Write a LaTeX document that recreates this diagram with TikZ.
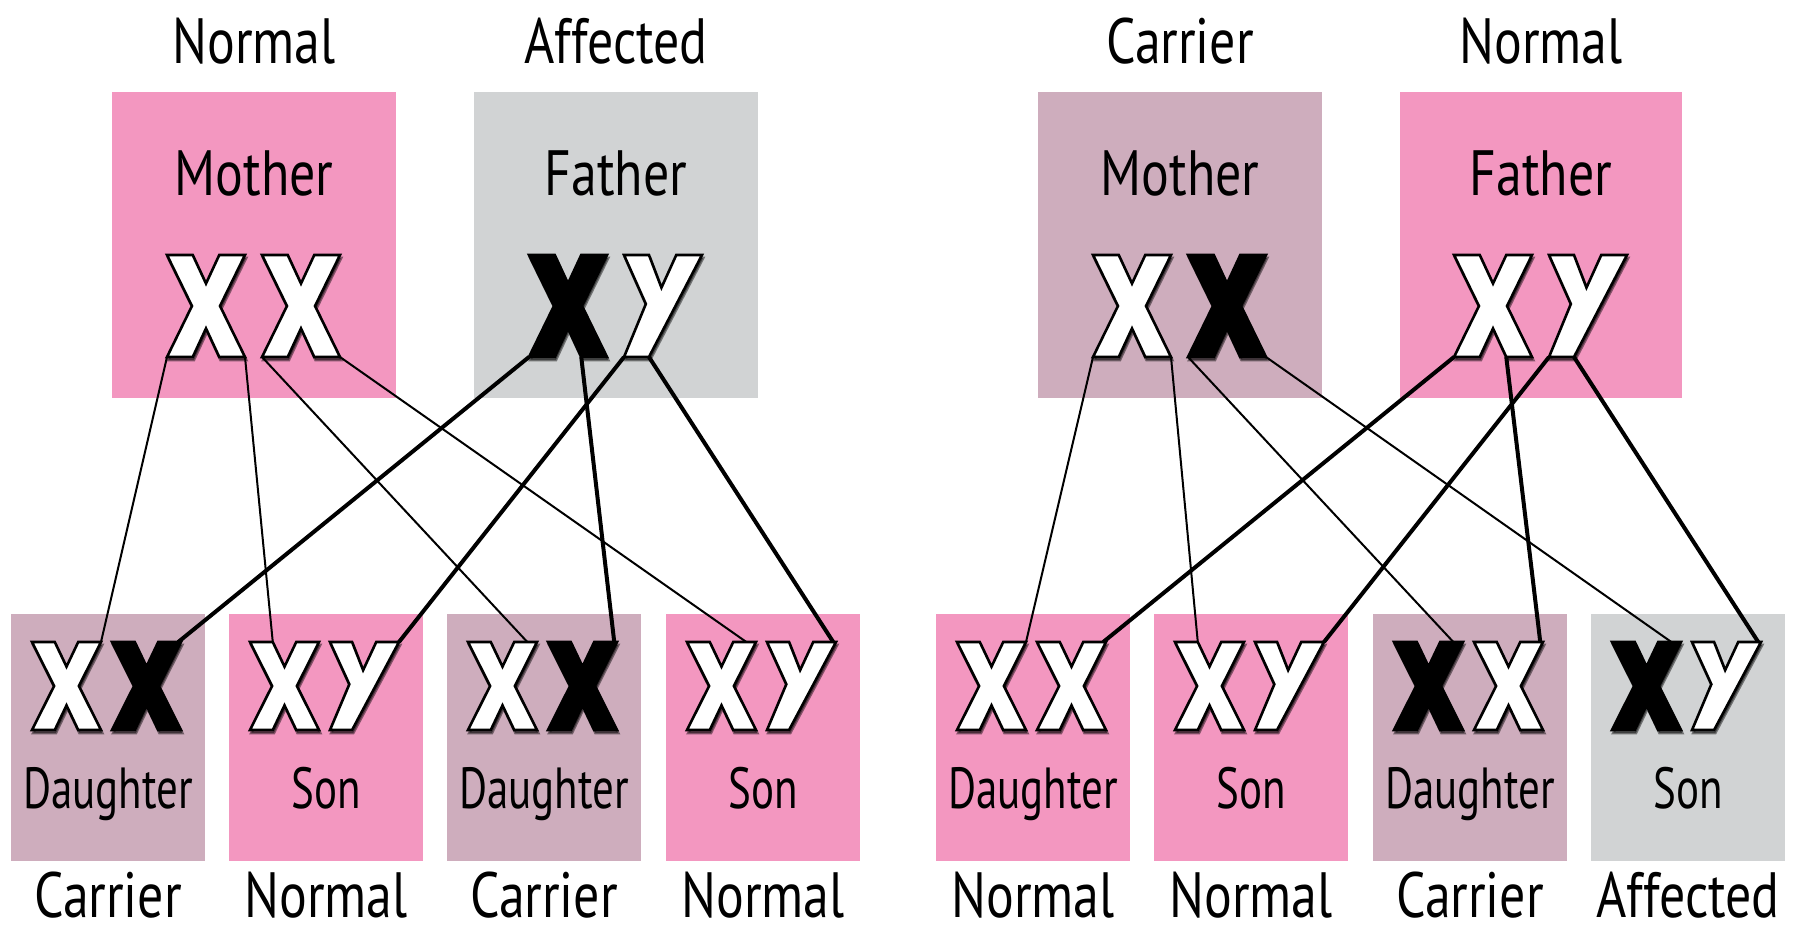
\documentclass[tikz,border=0pt]{standalone}
\usepackage{fontspec}
\setmainfont{PT Sans}[FakeStretch=0.81]
\newfontfamily\kidfont{PT Sans}[FakeStretch=0.74]
\pgfdeclarelayer{bg}
\pgfdeclarelayer{links}
\pgfsetlayers{bg,links,main}

\definecolor{rose}{HTML}{F397C0}
\definecolor{mauve}{HTML}{CEADBD}
\definecolor{ash}{HTML}{D1D3D4}

\tikzset{
  x=1pt, y=-1pt,
  panel/.style={fill=#1, draw=none},
  % chromosome glyphs drawn in a unit box, v grows downwards
  xglyph/.pic={
    \path[#1] (0,0) -- (0.33,0) -- (0.5,0.28) -- (0.67,0) -- (1,0) -- (0.68,0.5)
      -- (1,1) -- (0.67,1) -- (0.5,0.72) -- (0.33,1) -- (0,1) -- (0.32,0.5) -- cycle;
    \coordinate (-bl) at (0,1);
    \coordinate (-br) at (1,1);
    \coordinate (-ibr) at (0.67,1);
    \coordinate (-tr) at (1,0);
    \coordinate (-itl) at (0.33,0);
    \coordinate (-otr) at (0.86,0);
    \coordinate (-ntr) at (0.96,0);
  },
  yglyph/.pic={
    \path[#1] (0,0) -- (0.32,0) -- (0.48,0.32) -- (0.67,0) -- (1,0) -- (0.32,1)
      -- (0,1) -- (0.28,0.48) -- cycle;
    \coordinate (-bl) at (0,1);
    \coordinate (-br) at (0.32,1);
    \coordinate (-tr) at (1,0);
    \coordinate (-ntr) at (0.96,0);
  },
  open/.style={fill=white, draw=black, line width=2.6pt, line join=miter, miter limit=3},
  dark/.style={fill=black, draw=black, line width=2.6pt, line join=miter, miter limit=3},
  glyph shadow/.style={fill=black, draw=black, line width=2.6pt, opacity=0.45},
  thin link/.style={draw=black, line width=2pt},
  thick link/.style={draw=black, line width=4pt},
  status/.style={anchor=base, inner sep=0pt, text depth=0pt, font=\fontsize{64}{70}\selectfont},
  role/.style={anchor=base, inner sep=0pt, font=\fontsize{64}{70}\selectfont},
  kid/.style={anchor=base, inner sep=0pt, font=\kidfont\fontsize{58}{64}\selectfont},
}

% #1 name, #2 glyph (x or y), #3 left, #4 top, #5 width, #6 height, #7 look
\newcommand\chromo[7]{%
  \pic[xscale=#5, yscale=#6] at ({#3+1.2},{#4+3}) {#2glyph=glyph shadow};
  \pic[xscale=#5, yscale=#6] (#1) at (#3,#4) {#2glyph=#7};
}

\begin{document}
\begin{tikzpicture}
\useasboundingbox (0,0) rectangle (1798,937);

\begin{pgfonlayer}{bg}
  \fill[white] (0,0) rectangle (1798,937);
  % parents
  \fill[panel=rose]  (112,92) rectangle (396,398);
  \fill[panel=ash]   (474,92) rectangle (758,398);
  \fill[panel=mauve] (1038,92) rectangle (1322,398);
  \fill[panel=rose]  (1400,92) rectangle (1682,398);
  % children
  \fill[panel=mauve] (11,614) rectangle (205,861);
  \fill[panel=rose]  (229,614) rectangle (423,861);
  \fill[panel=mauve] (447,614) rectangle (641,861);
  \fill[panel=rose]  (666,614) rectangle (860,861);
  \fill[panel=rose]  (936,614) rectangle (1130,861);
  \fill[panel=rose]  (1154,614) rectangle (1348,861);
  \fill[panel=mauve] (1373,614) rectangle (1567,861);
  \fill[panel=ash]   (1591,614) rectangle (1785,861);
\end{pgfonlayer}

% status above the parents
\node[status] (tl1) at (254,63) {Normal};
\node[status] (tl2) at (616,63) {Affected};
\node[status] (tr1) at (1180,63) {Carrier};
\node[status] (tr2) at (1541,63) {Normal};

% parent names
\node[role] (nm1) at (254,195) {Mother};
\node[role] (nf1) at (616,195) {Father};
\node[role] (nm2) at (1180,195) {Mother};
\node[role] (nf2) at (1541,195) {Father};

% parent chromosomes
\chromo{lmA}{x}{167}{255}{78}{102}{open}
\chromo{lmB}{x}{262}{255}{78}{102}{open}
\chromo{lfA}{x}{529}{255}{78}{102}{dark}
\chromo{lfB}{y}{624}{255}{78}{102}{open}
\chromo{rmA}{x}{1093}{255}{78}{102}{open}
\chromo{rmB}{x}{1188}{255}{78}{102}{dark}
\chromo{rfA}{x}{1454}{255}{78}{102}{open}
\chromo{rfB}{y}{1549}{255}{78}{102}{open}

% children chromosomes
\chromo{d1A}{x}{32}{642}{69}{88}{open}
\chromo{d1B}{x}{112}{642}{69}{88}{dark}
\chromo{s1A}{x}{250}{642}{69}{88}{open}
\chromo{s1B}{y}{330}{642}{69}{88}{open}
\chromo{d2A}{x}{468}{642}{69}{88}{open}
\chromo{d2B}{x}{548}{642}{69}{88}{dark}
\chromo{s2A}{x}{687}{642}{69}{88}{open}
\chromo{s2B}{y}{767}{642}{69}{88}{open}
\chromo{D1A}{x}{957}{642}{69}{88}{open}
\chromo{D1B}{x}{1037}{642}{69}{88}{open}
\chromo{S1A}{x}{1175}{642}{69}{88}{open}
\chromo{S1B}{y}{1255}{642}{69}{88}{open}
\chromo{D2A}{x}{1394}{642}{69}{88}{dark}
\chromo{D2B}{x}{1474}{642}{69}{88}{open}
\chromo{S2A}{x}{1612}{642}{69}{88}{dark}
\chromo{S2B}{y}{1692}{642}{69}{88}{open}

% children names
\node[kid] (k1) at (108,808) {Daughter};
\node[kid] (k2) at (326,808) {Son};
\node[kid] (k3) at (544,808) {Daughter};
\node[kid] (k4) at (763,808) {Son};
\node[kid] (k5) at (1033,808) {Daughter};
\node[kid] (k6) at (1251,808) {Son};
\node[kid] (k7) at (1470,808) {Daughter};
\node[kid] (k8) at (1688,808) {Son};

% status below the children
\node[status] (b1) at (108,917) {Carrier};
\node[status] (b2) at (326,917) {Normal};
\node[status] (b3) at (544,917) {Carrier};
\node[status] (b4) at (763,917) {Normal};
\node[status] (b5) at (1033,917) {Normal};
\node[status] (b6) at (1251,917) {Normal};
\node[status] (b7) at (1470,917) {Carrier};
\node[status] (b8) at (1688,917) {Affected};

% inheritance links
\begin{pgfonlayer}{links}
  \draw[thin link] (lmA-bl) -- (d1A-tr);
  \draw[thin link] (lmA-br) -- (s1A-itl);
  \draw[thin link] (lmB-bl) -- (d2A-otr);
  \draw[thin link] (lmB-br) -- (s2A-otr);
  \draw[thick link] (lfA-bl) -- (d1B-ntr);
  \draw[thick link] (lfA-ibr) -- (d2B-ntr);
  \draw[thick link] (lfB-bl) -- (s1B-tr);
  \draw[thick link] (lfB-br) -- (s2B-ntr);

  \draw[thin link] (rmA-bl) -- (D1A-tr);
  \draw[thin link] (rmA-br) -- (S1A-itl);
  \draw[thin link] (rmB-bl) -- (D2A-otr);
  \draw[thin link] (rmB-br) -- (S2A-otr);
  \draw[thick link] (rfA-bl) -- (D1B-ntr);
  \draw[thick link] (rfA-ibr) -- (D2B-ntr);
  \draw[thick link] (rfB-bl) -- (S1B-tr);
  \draw[thick link] (rfB-br) -- (S2B-ntr);
\end{pgfonlayer}
\end{tikzpicture}
\end{document}
